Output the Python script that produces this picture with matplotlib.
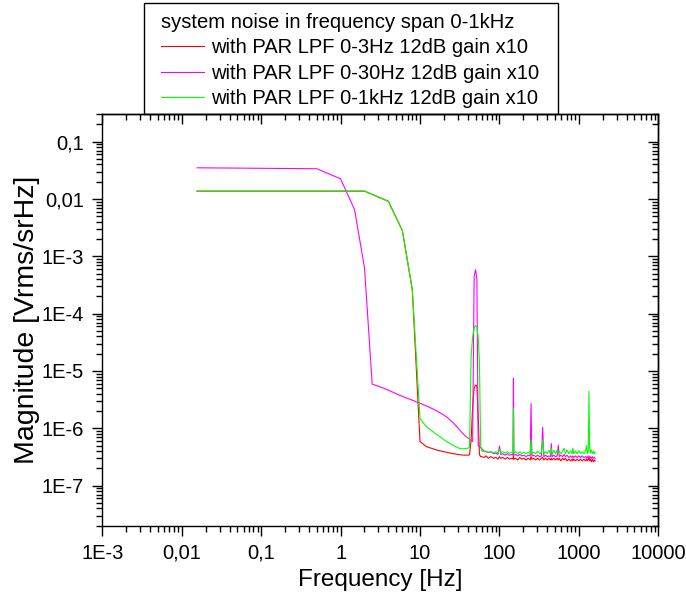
import matplotlib
matplotlib.use("Agg")
import matplotlib.pyplot as plt
from matplotlib.ticker import FixedLocator, FixedFormatter, LogLocator, NullFormatter
from matplotlib.patches import Rectangle

plt.rcParams['font.family'] = ['Liberation Sans', 'DejaVu Sans']

# ---- data -----------------------------------------------------------------
legend_title = "system noise in frequency span 0-1kHz"
labels = [
    "with PAR LPF 0-3Hz 12dB gain x10",
    "with PAR LPF 0-30Hz 12dB gain x10",
    "with PAR LPF 0-1kHz 12dB gain x10",
]
colors = ["#ff0000", "#ff00ff", "#00ff00"]

# shared frequency grid of the noise floor (Hz)
floor_freq = [60, 64, 68, 72, 78, 84, 90, 96, 100, 104,
              110, 118, 126, 134, 142, 148, 150, 152, 160, 170,
              180, 192, 204, 216, 230, 244, 250, 256, 270, 286,
              302, 320, 338, 350, 362, 380, 400, 420, 440, 450,
              460, 484, 508, 534, 550, 566, 594, 624, 650, 676,
              710, 746, 784, 822, 840, 862, 906, 950, 998, 1048,
              1100, 1156, 1214, 1250, 1276, 1316, 1340, 1366, 1400, 1440,
              1484, 1530, 1576, 1600]

# LPF 0-3Hz
red_low_freq = [0.0156, 2, 4, 6, 8, 10, 12, 16, 20, 24, 28, 32, 36, 40,
                42, 44, 46, 48, 50, 52, 54, 56, 58]
red_low_mag = [1.37e-2, 1.37e-2, 9.1e-3, 2.8e-3, 2.6e-4, 5.9e-7, 4.8e-7,
               4.2e-7, 3.9e-7, 3.7e-7, 3.55e-7, 3.45e-7, 3.4e-7, 3.4e-7,
               3.45e-7, 6.3e-7, 2.4e-6, 5.0e-6, 5.7e-6, 5.4e-6, 1.6e-6,
               3.5e-7, 3.2e-7]
red_floor = [3.2e-7, 3.1e-7, 3.3e-7, 3.0e-7, 3.2e-7, 3.0e-7, 3.1e-7, 2.9e-7, 3.2e-7, 3.0e-7,
             3.1e-7, 2.9e-7, 3.1e-7, 2.9e-7, 3.0e-7, 2.9e-7, 3.3e-7, 2.9e-7, 3.0e-7, 2.8e-7,
             3.1e-7, 2.9e-7, 3.0e-7, 2.8e-7, 3.0e-7, 2.8e-7, 3.2e-7, 2.9e-7, 3.0e-7, 2.8e-7,
             3.0e-7, 2.8e-7, 3.0e-7, 3.1e-7, 2.8e-7, 3.0e-7, 2.8e-7, 3.0e-7, 2.8e-7, 3.0e-7,
             2.8e-7, 3.0e-7, 2.8e-7, 3.0e-7, 2.8e-7, 3.0e-7, 2.7e-7, 3.0e-7, 2.8e-7, 3.0e-7,
             2.7e-7, 2.9e-7, 2.7e-7, 2.9e-7, 2.7e-7, 2.9e-7, 2.7e-7, 2.9e-7, 2.7e-7, 2.9e-7,
             2.7e-7, 2.9e-7, 2.7e-7, 2.9e-7, 2.7e-7, 2.9e-7, 3.1e-7, 2.7e-7, 2.9e-7, 2.6e-7,
             2.9e-7, 2.6e-7, 2.8e-7, 2.7e-7]

# LPF 0-30Hz
mag_low_freq = [0.0156, 0.5, 1.0, 1.5, 2.0, 2.5, 3.0, 3.5, 4.5, 6.0, 7.5,
                10.5, 13, 16, 20, 22, 26, 29, 33, 37, 40, 43, 46, 48,
                50, 52, 54, 57]
mag_low_mag = [3.5e-2, 3.37e-2, 2.25e-2, 6.5e-3, 6.3e-4, 5.9e-6, 5.4e-6,
               5.0e-6, 4.3e-6, 3.6e-6, 3.2e-6, 2.66e-6, 2.34e-6, 2.04e-6,
               1.7e-6, 1.55e-6, 1.26e-6, 1.07e-6, 8.7e-7, 7.4e-7, 6.8e-7,
               6.3e-7, 5.9e-7, 4.5e-4, 5.85e-4, 4.0e-4, 5.0e-7, 4.7e-7]
mag_floor = [4.4e-7, 4.0e-7, 3.9e-7, 3.8e-7, 3.9e-7, 3.6e-7, 3.7e-7, 3.5e-7, 4.9e-7, 3.5e-7,
             3.6e-7, 3.4e-7, 3.6e-7, 3.4e-7, 3.5e-7, 3.4e-7, 7.5e-6, 3.4e-7, 3.5e-7, 3.3e-7,
             3.5e-7, 3.3e-7, 3.4e-7, 3.2e-7, 3.4e-7, 3.3e-7, 2.7e-6, 3.3e-7, 3.4e-7, 3.2e-7,
             3.4e-7, 3.2e-7, 3.3e-7, 1.04e-6, 3.2e-7, 3.4e-7, 3.2e-7, 3.3e-7, 3.2e-7, 5.4e-7,
             3.2e-7, 3.4e-7, 3.2e-7, 3.3e-7, 5.1e-7, 3.2e-7, 3.4e-7, 3.2e-7, 3.5e-7, 3.2e-7,
             3.4e-7, 3.1e-7, 3.3e-7, 3.1e-7, 3.3e-7, 3.1e-7, 3.3e-7, 3.1e-7, 3.3e-7, 3.1e-7,
             3.3e-7, 3.1e-7, 3.2e-7, 3.0e-7, 3.2e-7, 3.0e-7, 3.3e-7, 3.0e-7, 3.2e-7, 3.0e-7,
             3.2e-7, 3.0e-7, 3.1e-7, 3.0e-7]

# LPF 0-1kHz
grn_low_freq = [0.0156, 2, 4, 6, 8, 10, 12, 14, 16, 18, 20, 24, 28, 32, 36,
                40, 42, 44, 46, 48, 50, 52, 54, 56, 58]
grn_low_mag = [1.37e-2, 1.37e-2, 9.1e-3, 2.8e-3, 2.6e-4, 1.48e-6, 1.07e-6,
               9.1e-7, 7.9e-7, 7.1e-7, 6.3e-7, 5.4e-7, 4.8e-7, 4.4e-7, 4.4e-7,
               4.5e-7, 4.7e-7, 1.8e-5, 4.0e-5, 5.6e-5, 6.2e-5, 5.8e-5, 4.0e-5,
               1.4e-5, 5.0e-7]
grn_floor = [4.0e-7, 3.9e-7, 4.0e-7, 3.8e-7, 3.9e-7, 3.7e-7, 3.9e-7, 3.7e-7, 4.3e-7, 3.8e-7,
             3.9e-7, 3.7e-7, 3.9e-7, 3.7e-7, 3.8e-7, 3.7e-7, 2.2e-6, 3.7e-7, 3.9e-7, 3.6e-7,
             3.9e-7, 3.6e-7, 3.8e-7, 3.6e-7, 3.8e-7, 3.6e-7, 6.3e-7, 3.6e-7, 3.8e-7, 3.6e-7,
             4.0e-7, 3.6e-7, 3.8e-7, 6.3e-7, 3.6e-7, 3.9e-7, 3.6e-7, 4.1e-7, 3.6e-7, 4.4e-7,
             3.6e-7, 4.1e-7, 3.6e-7, 4.2e-7, 3.7e-7, 4.0e-7, 3.6e-7, 4.0e-7, 4.5e-7, 3.6e-7,
             4.2e-7, 3.6e-7, 4.0e-7, 3.6e-7, 4.5e-7, 3.6e-7, 4.0e-7, 3.6e-7, 4.1e-7, 3.6e-7,
             3.9e-7, 3.6e-7, 4.0e-7, 5.0e-7, 3.6e-7, 4.0e-7, 4.4e-6, 4.6e-7, 3.7e-7, 4.2e-7,
             3.6e-7, 4.0e-7, 3.6e-7, 3.8e-7]

x_tick_values = [1e-3, 1e-2, 1e-1, 1, 10, 100, 1000, 10000]
x_tick_labels = ["1E-3", "0,01", "0,1", "1", "10", "100", "1000", "10000"]
y_tick_values = [1e-7, 1e-6, 1e-5, 1e-4, 1e-3, 1e-2, 1e-1]
y_tick_labels = ["1E-7", "1E-6", "1E-5", "1E-4", "1E-3", "0,01", "0,1"]

# ---- figure ---------------------------------------------------------------
W, H = 686, 602
fig = plt.figure(figsize=(W / 100, H / 100), dpi=100)
ax = fig.add_axes([102.3 / W, 1 - 525.7 / H, 556 / W, 411.4 / H])
ax.set_xscale('log')
ax.set_yscale('log')

series = [
    (red_low_freq + floor_freq, red_low_mag + red_floor),
    (mag_low_freq + floor_freq, mag_low_mag + mag_floor),
    (grn_low_freq + floor_freq, grn_low_mag + grn_floor),
]
lines = []
for (f, m), c, lab in zip(series, colors, labels):
    ln, = ax.plot(f, m, color=c, lw=0.8, label=lab)
    lines.append(ln)

ax.set_xlim(1e-3, 1e4)
ax.set_ylim(2e-8, 0.3)

minor_subs = [2, 3, 4, 5, 6, 7, 8, 9]
ax.xaxis.set_major_locator(FixedLocator(x_tick_values))
ax.xaxis.set_major_formatter(FixedFormatter(x_tick_labels))
ax.xaxis.set_minor_locator(LogLocator(base=10, subs=minor_subs, numticks=30))
ax.xaxis.set_minor_formatter(NullFormatter())
ax.yaxis.set_major_locator(FixedLocator(y_tick_values))
ax.yaxis.set_major_formatter(FixedFormatter(y_tick_labels))
ax.yaxis.set_minor_locator(LogLocator(base=10, subs=minor_subs, numticks=30))
ax.yaxis.set_minor_formatter(NullFormatter())

for sp in ax.spines.values():
    sp.set_linewidth(1.0)
ax.tick_params(which='both', direction='out', top=False, right=False,
               width=1.0, labelsize=14.5, colors='black')
ax.tick_params(which='major', length=7, pad=6)
ax.tick_params(which='minor', length=4)

# mirrored ticks pointing inward on the top and right edges
top = ax.secondary_xaxis('top')
top.xaxis.set_major_locator(FixedLocator(x_tick_values))
top.xaxis.set_minor_locator(LogLocator(base=10, subs=minor_subs, numticks=30))
top.xaxis.set_major_formatter(NullFormatter())
top.xaxis.set_minor_formatter(NullFormatter())
top.tick_params(which='both', direction='in', width=1.0)
top.tick_params(which='major', length=7)
top.tick_params(which='minor', length=4)
right = ax.secondary_yaxis('right')
right.yaxis.set_major_locator(FixedLocator(y_tick_values))
right.yaxis.set_minor_locator(LogLocator(base=10, subs=minor_subs, numticks=30))
right.yaxis.set_major_formatter(NullFormatter())
right.yaxis.set_minor_formatter(NullFormatter())
right.tick_params(which='both', direction='in', width=1.0)
right.tick_params(which='major', length=7)
right.tick_params(which='minor', length=4)
for s in (top, right):
    for sp in s.spines.values():
        sp.set_linewidth(1.0)

ax.set_xlabel('Frequency [Hz]', fontsize=17.5)
ax.set_ylabel('Magnitude [Vrms/srHz]', fontsize=20.5)
ax.xaxis.set_label_coords(0.5, -0.105)
ax.yaxis.set_label_coords(-0.112, 0.5)

# legend block above the plot
leg = fig.legend(handles=lines, labels=labels, title=legend_title,
                 loc='upper left', bbox_to_anchor=(161 / W, 1 - 13 / H),
                 frameon=False, fontsize=14.5, title_fontsize=14.6,
                 borderpad=0, borderaxespad=0, handlelength=2.15,
                 handletextpad=0.35, labelspacing=0.32, alignment='left')
fig.add_artist(Rectangle((144 / W, 1 - 114 / H), 414 / W, 111 / H,
                         transform=fig.transFigure, fill=False,
                         edgecolor='black', lw=1.0))

fig.savefig('out.png', dpi=100)
